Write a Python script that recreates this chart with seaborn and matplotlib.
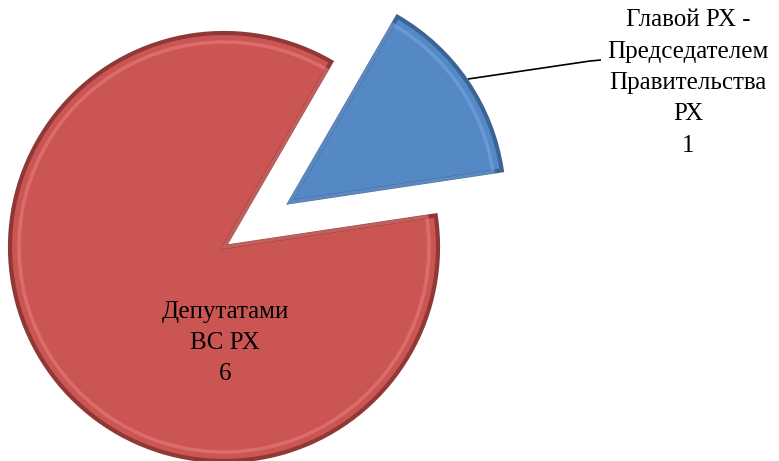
import matplotlib
matplotlib.use("Agg")
import matplotlib.pyplot as plt
import seaborn as sns

# ==========================================
# DATA
# ==========================================

labels = ["Главой РХ -\nПредседателем\nПравительства\nРХ", "Депутатами\nВС РХ"]
values = [1, 6]
colors = ["#5589C6", "#CB5553"]
edge_colors = ["#3B6496", "#8F3836"]
light_colors = ["#7AA8E0", "#E88280"]

# ==========================================
# STYLE
# ==========================================

sns.set_theme(style="white")
plt.rcParams["font.family"] = ["Liberation Serif", "DejaVu Serif"]

W, H = 779, 461
fig = plt.figure(figsize=(W / 100, H / 100), dpi=100)
ax = fig.add_axes([0, 0, 1, 1])

# pie centre and radius in pixel units (y up)
cx, cy, r = 224, H - 247, 214
explode = [80, 0]  # data units (pixels) here

wedges, _ = ax.pie(
    values,
    colors=colors,
    explode=explode,
    startangle=8.5,
    counterclock=True,
    center=(cx, cy),
    radius=r,
    wedgeprops=dict(linewidth=3, joinstyle="miter"),
)
for w, ec in zip(wedges, edge_colors):
    w.set_edgecolor(ec)

# soft inner rim to hint at the bevel
rims, _ = ax.pie(
    values,
    explode=explode,
    startangle=8.5,
    counterclock=True,
    center=(cx, cy),
    radius=r - 9,
    wedgeprops=dict(linewidth=2.5, fill=False, alpha=0.55),
)
for w, lc in zip(rims, light_colors):
    w.set_edgecolor(lc)

ax.set_xlim(0, W)
ax.set_ylim(0, H)
ax.set_aspect("equal")
ax.axis("off")

# ==========================================
# LABELS
# ==========================================

ax.text(225, H - 343, f"{labels[1]}\n{values[1]}", ha="center", va="center",
        fontsize=18, color="black", linespacing=1.55)

ax.text(688, H - 83, f"{labels[0]}\n{values[0]}", ha="center", va="center",
        fontsize=18, color="black", linespacing=1.55)

# leader line to the small slice
ax.plot([468, 590, 601], [H - 79, H - 61, H - 60], color="black", lw=1.2,
        solid_capstyle="butt")

fig.savefig("out.png", dpi=100)
plt.close(fig)
